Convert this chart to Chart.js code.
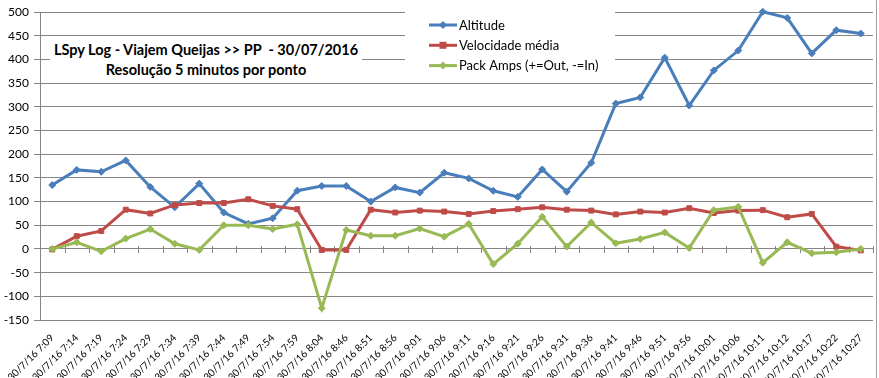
<!DOCTYPE html>
<html>
<head>
<meta charset="utf-8">
<script src="https://cdn.jsdelivr.net/npm/chart.js@4/dist/chart.umd.min.js"></script>
<style>
  html, body { margin: 0; padding: 0; background: #fff; }
  #wrap { position: relative; width: 879px; height: 378px; }
  #c { position: absolute; left: 0; top: 0; }
  #title {
    position: absolute; left: 50px; top: 40px; width: 312px; height: 38px;
    background: #fff; text-align: center; font-family: Lato, "Liberation Sans", sans-serif;
    font-weight: bold; font-size: 14.5px; line-height: 20px; color: #000; white-space: pre;
  }
</style>
</head>
<body>
<div id="wrap">
  <canvas id="c" width="879" height="378"></canvas>
  <div id="title">LSpy Log - Viajem Queijas &gt;&gt; PP  - 30/07/2016
Resolução 5 minutos por ponto</div>
</div>
<script>
const categories = [
  "30/7/16 7:09","30/7/16 7:14","30/7/16 7:19","30/7/16 7:24","30/7/16 7:29","30/7/16 7:34",
  "30/7/16 7:39","30/7/16 7:44","30/7/16 7:49","30/7/16 7:54","30/7/16 7:59","30/7/16 8:04",
  "30/7/16 8:46","30/7/16 8:51","30/7/16 8:56","30/7/16 9:01","30/7/16 9:06","30/7/16 9:11",
  "30/7/16 9:16","30/7/16 9:21","30/7/16 9:26","30/7/16 9:31","30/7/16 9:36","30/7/16 9:41",
  "30/7/16 9:46","30/7/16 9:51","30/7/16 9:56","30/7/16 10:01","30/7/16 10:06","30/7/16 10:11",
  "30/7/16 10:12","30/7/16 10:17","30/7/16 10:22","30/7/16 10:27"
];
const altitude = [135,167,163,187,131,88,138,77,53,65,123,133,133,100,130,119,161,149,123,110,168,121,182,307,320,404,303,377,419,501,488,413,462,455];
const velocidade = [-1,27,38,83,75,93,97,97,105,91,84,-2,-2,83,77,81,79,74,80,84,88,83,81,73,79,77,86,76,81,82,67,74,5,-3];
const packAmps = [0,14,-5,22,42,11,-2,50,50,42,52,-125,40,28,28,43,26,53,-32,11,68,5,56,12,21,35,2,82,89,-29,14,-9,-7,0];
const yMin = -150, yMax = 500, yStep = 50;

const seriesNames = ["Altitude", "Velocidade média", "Pack Amps (+=Out, -=In)"];
const colors = ["#4A7EBB", "#BE4B48", "#98B954"];
const FONT = 'Lato, "Liberation Sans", sans-serif';

const zeroTicks = {
  id: 'zeroTicks',
  beforeDatasetsDraw(chart) {
    const ctx = chart.ctx, x = chart.scales.x, y = chart.scales.y;
    const y0 = y.getPixelForValue(0);
    ctx.save();
    ctx.strokeStyle = '#868686';
    ctx.lineWidth = 1;
    ctx.beginPath();
    for (let i = 0; i <= categories.length; i++) {
      const px = Math.round(x.getPixelForValue(i - 0.5)) + 0.5;
      ctx.moveTo(px, Math.round(y0) - 3);
      ctx.lineTo(px, Math.round(y0) + 4);
    }
    ctx.stroke();
    // legend box
    const lx = 405, ly = 11, lw = 210, lh = 68;
    ctx.fillStyle = '#fff';
    ctx.fillRect(lx, ly, lw, lh);
    ctx.font = '13px ' + FONT;
    ctx.textBaseline = 'middle';
    chart.data.datasets.forEach((ds, i) => {
      const cy = 25 + i * 20.3;
      ctx.strokeStyle = ds.borderColor;
      ctx.lineWidth = 3;
      ctx.beginPath();
      ctx.moveTo(429, cy); ctx.lineTo(457, cy);
      ctx.stroke();
      ctx.fillStyle = ds.borderColor;
      const r = 3.5, mx = 443;
      ctx.beginPath();
      if (ds.pointStyle === 'rect') {
        ctx.rect(mx - r, cy - r, 2 * r, 2 * r);
      } else {
        ctx.moveTo(mx, cy - r - 0.5); ctx.lineTo(mx + r + 0.5, cy); ctx.lineTo(mx, cy + r + 0.5); ctx.lineTo(mx - r - 0.5, cy); ctx.closePath();
      }
      ctx.fill();
      ctx.fillStyle = '#000';
      ctx.fillText(ds.label, 459, cy + 0.5);
    });
    // right border
    ctx.strokeStyle = '#A0A0A0';
    ctx.lineWidth = 1;
    ctx.beginPath();
    ctx.moveTo(876.5, 0); ctx.lineTo(876.5, 378);
    ctx.stroke();
    ctx.restore();
  }
};

const mk = (label, data, color, style, order) => ({
  label, data, borderColor: color, backgroundColor: color,
  borderWidth: 3, tension: 0, pointStyle: style, pointRadius: 3.5,
  pointBorderWidth: 1, pointBorderColor: color, pointBackgroundColor: color,
  order, clip: false
});

new Chart(document.getElementById('c'), {
  type: 'line',
  data: {
    labels: categories,
    datasets: [
      mk(seriesNames[0], altitude, colors[0], 'rectRot', 3),
      mk(seriesNames[1], velocidade, colors[1], 'rect', 2),
      mk(seriesNames[2], packAmps, colors[2], 'rectRot', 1)
    ]
  },
  options: {
    responsive: false,
    animation: false,
    events: [],
    layout: { padding: { top: 10, right: 6, left: 0, bottom: 0 } },
    plugins: { legend: { display: false }, tooltip: { enabled: false }, title: { display: false } },
    scales: {
      x: {
        offset: true,
        grid: { display: false },
        border: { display: false },
        ticks: {
          autoSkip: false, maxRotation: 45, minRotation: 45, padding: 4,
          color: '#000', font: { family: FONT, size: 10 }
        },
        afterFit(s) { s.height = 58; }
      },
      y: {
        min: yMin, max: yMax,
        grid: { color: '#868686', lineWidth: 1, tickLength: 6, drawTicks: true },
        border: { display: true, color: '#868686' },
        ticks: { stepSize: yStep, padding: 5, color: '#000', font: { family: FONT, size: 12 } },
        afterFit(s) { s.width = 40; }
      }
    }
  },
  plugins: [zeroTicks]
});
</script>
</body>
</html>
